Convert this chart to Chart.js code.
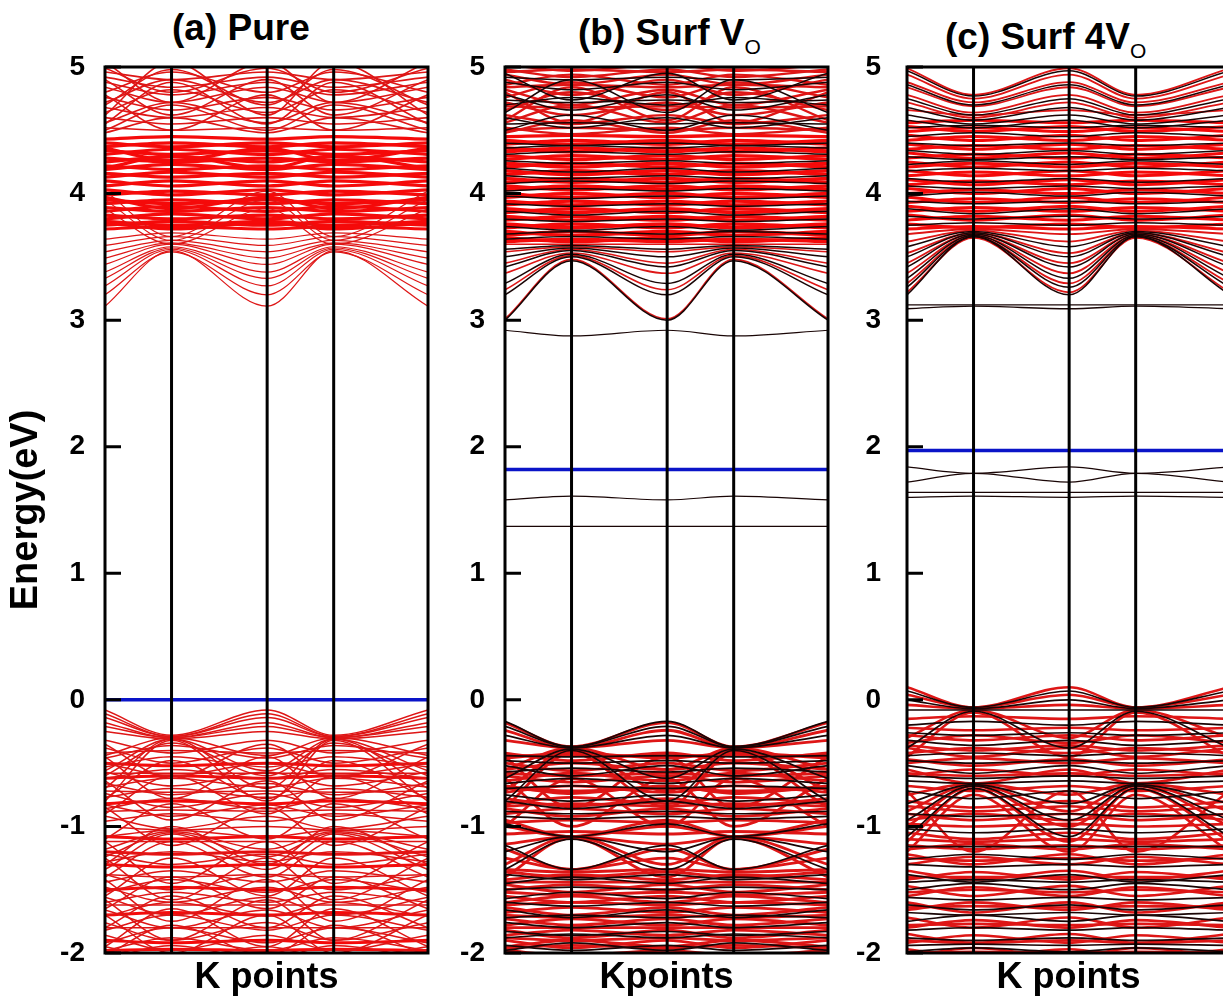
<!DOCTYPE html>
<html>
<head>
<meta charset="utf-8">
<script src="https://cdn.jsdelivr.net/npm/chart.js@4.4.0/dist/chart.umd.min.js"></script>
<style>
  body { margin: 0; width: 1223px; height: 1000px; overflow: hidden; background: #fff; position: relative;
         font-family: "Liberation Sans", Arial, sans-serif; }
  .panel { position: absolute; top: 0; height: 1000px; }
  .title { position: absolute; font-weight: bold; font-size: 37px; line-height: 36px; white-space: nowrap; color: #000; }
  .title sub { font-size: 21px; font-weight: normal; vertical-align: -9px; line-height: 0; }
</style>
</head>
<body>
<div class="title" style="left:172px;top:10px">(a) Pure</div>
<div class="title" style="left:578px;top:15px">(b) Surf V<sub>O</sub></div>
<div class="title" style="left:945px;top:19px">(c) Surf 4V<sub>O</sub></div>

<div class="panel" style="left:0;width:440px"><canvas id="pure"></canvas></div>
<div class="panel" style="left:440px;width:400px"><canvas id="vo1"></canvas></div>
<div class="panel" style="left:850px;width:400px"><canvas id="vo4"></canvas></div>

<script>
// k path and ticks
const kTicks = [0, 0.206, 0.502, 0.708, 1];
const kLabels = ["Γ", "X", "Γ", "X", "Γ"];
const energyTicks = [-2, -1, 0, 1, 2, 3, 4, 5];

// Fermi levels (eV)
const fermiPure = 0;
const fermiVo = 1.82;
const fermi4Vo = 1.97;

// every band is [E at Γ, E at X] in eV

// (a) Pure
const pureCond = [
  [3.11, 3.55], [3.2, 3.54], [3.27, 3.56], [3.33, 3.57], [3.38, 3.58], [3.44, 3.6], [3.49, 3.61],
  [3.54, 3.63], [3.59, 3.66], [3.64, 3.69], [3.88, 3.6], [3.95, 3.63], [4.02, 3.66]
];
const pureCondDense = [
  [3.72, 3.74], [3.75, 3.78], [3.78, 3.75], [3.8, 3.84], [3.83, 3.8], [3.86, 3.9], [3.89, 3.86],
  [3.92, 3.95], [3.95, 3.92], [3.99, 4.02], [4.03, 3.99], [4.06, 4.1], [4.1, 4.06], [4.13, 4.17],
  [4.16, 4.13], [4.19, 4.23], [4.22, 4.19], [4.25, 4.29], [4.28, 4.25], [4.31, 4.35], [4.34, 4.31],
  [4.37, 4.4], [4.4, 4.37], [4.43, 4.45], [3.77, 3.72], [3.97, 3.88], [4.2, 4.3], [4.36, 4.26]
];
const pureCondUpper = [
  [4.48, 4.6], [4.52, 4.5], [4.56, 4.72], [4.6, 4.55], [4.64, 4.82], [4.68, 4.6], [4.72, 4.9],
  [4.76, 4.66], [4.8, 4.96], [4.84, 4.72], [4.88, 4.78], [4.92, 4.84], [4.96, 4.9], [4.55, 4.88],
  [4.78, 4.5], [5.04, 4.72], [4.62, 5.04], [4.99, 4.8], [4.5, 4.7], [4.7, 4.98], [4.9, 4.62]
];
const pureVal = [
  [-0.08, -0.28], [-0.11, -0.29], [-0.14, -0.29], [-0.18, -0.3], [-0.21, -0.3], [-0.25, -0.31],
  [-0.44, -0.3], [-0.56, -0.31], [-0.7, -0.31], [-0.8, -0.32],
  [-0.32, -0.42], [-0.38, -0.5], [-0.46, -0.36], [-0.5, -0.6], [-0.53, -0.45], [-0.57, -0.68],
  [-0.62, -0.55], [-0.66, -0.75], [-0.69, -0.62], [-0.74, -0.85], [-0.77, -0.7], [-0.83, -0.92],
  [-0.86, -0.78], [-0.92, -1.02], [-0.96, -0.9], [-1.0, -1.03], [-1.08, -1.03], [-1.18, -1.04],
  [-1.24, -1.05], [-1.34, -1.06], [-1.2, -1.22], [-1.22, -1.3], [-1.28, -1.2], [-1.44, -1.35],
  [-1.38, -1.5], [-1.52, -1.42], [-1.48, -1.6], [-1.6, -1.52], [-1.56, -1.7], [-1.71, -1.6],
  [-1.66, -1.8], [-1.82, -1.7], [-1.76, -1.9], [-1.92, -1.8], [-1.86, -1.98], [-1.98, -1.88],
  [-1.95, -2.05], [-2.05, -1.94],
  [-0.35, -0.62], [-0.6, -0.34], [-0.45, -0.78], [-0.78, -0.48], [-0.9, -0.6], [-0.64, -0.95],
  [-1.1, -0.82], [-0.85, -1.15], [-1.3, -1.0], [-1.4, -1.12], [-1.12, -1.45], [-1.55, -1.25],
  [-1.25, -1.58], [-1.65, -1.4], [-1.42, -1.75], [-1.8, -1.55], [-1.58, -1.9], [-1.95, -1.65],
  [-1.7, -2.0], [-2.02, -1.78], [-0.42, -0.4], [-0.58, -0.58], [-0.72, -0.73], [-0.88, -0.87],
  [-1.12, -1.12], [-1.38, -1.4], [-1.62, -1.62], [-1.8, -1.8]
];
const pureValThick = [
  [-0.5, -0.52], [-0.62, -0.6], [-0.82, -0.8], [-1.08, -1.1], [-1.2, -1.22], [-1.3, -1.32],
  [-1.5, -1.48], [-1.7, -1.68], [-1.9, -1.92], [-1.98, -1.97]
];

// (b) Surf VO : black = spin up, red = spin down
const vo1Gap = [[2.92, 2.875], [1.58, 1.61], [1.37, 1.37]];
const vo1CondBlack = [
  [3.0, 3.47], [3.2, 3.5], [3.29, 3.52], [3.42, 3.55], [3.5, 3.57], [3.56, 3.59],
  [3.64, 3.66], [3.74, 3.71], [3.86, 3.83], [3.98, 3.96], [4.08, 4.1], [4.2, 4.17], [4.31, 4.33], [4.4, 4.38],
  [3.68, 3.7], [3.8, 3.78], [3.92, 3.9], [4.02, 4.04], [4.14, 4.12], [4.26, 4.24], [4.36, 4.38],
  [4.5, 4.62], [4.6, 4.52], [4.7, 4.76], [4.78, 4.66], [4.88, 4.82], [4.95, 4.74], [4.64, 4.9],
  [4.55, 4.56], [4.74, 4.72], [4.92, 4.9]
];
const vo1CondRed = [
  [3.01, 3.48], [3.24, 3.51], [3.37, 3.53], [3.45, 3.56], [3.54, 3.58], [3.6, 3.6]
];
const vo1CondUpper = [
  [4.48, 4.58], [4.52, 4.47], [4.56, 4.7], [4.62, 4.55], [4.66, 4.8], [4.72, 4.62], [4.76, 4.88],
  [4.82, 4.7], [4.86, 4.94], [4.9, 4.78], [4.94, 4.86], [4.98, 4.92], [5.02, 4.97], [4.58, 4.84], [4.8, 4.56],
  [4.5, 4.52], [4.69, 4.68], [4.84, 4.86], [4.96, 4.98]
];
const vo1CondDense = [
  [3.62, 3.64], [3.65, 3.62], [3.67, 3.7], [3.7, 3.67], [3.73, 3.76], [3.76, 3.73], [3.79, 3.82],
  [3.82, 3.79], [3.85, 3.88], [3.88, 3.85], [3.91, 3.94], [3.94, 3.91], [3.97, 4.0], [4.0, 3.97],
  [4.03, 4.06], [4.06, 4.03], [4.09, 4.12], [4.12, 4.09], [4.15, 4.18], [4.18, 4.15], [4.21, 4.24],
  [4.24, 4.21], [4.27, 4.3], [4.3, 4.27], [4.33, 4.36], [4.36, 4.33], [4.39, 4.42], [4.42, 4.39], [4.45, 4.46]
];
const vo1ValBlack = [
  [-0.17, -0.37], [-0.21, -0.37], [-0.28, -0.38], [-0.62, -0.39], [-0.8, -0.4], [-0.44, -0.45],
  [-0.52, -0.6], [-0.66, -0.62], [-0.75, -0.8], [-0.88, -0.9], [-0.98, -1.08], [-1.2, -1.08],
  [-1.34, -1.1], [-1.15, -1.34], [-1.45, -1.4], [-1.57, -1.52], [-1.66, -1.72], [-1.76, -1.8],
  [-1.88, -1.85], [-1.94, -1.98],
  [-0.48, -0.5], [-0.57, -0.54], [-0.7, -0.68], [-0.8, -0.86], [-0.92, -0.94], [-1.38, -1.42],
  [-1.5, -1.48], [-1.6, -1.63], [-1.72, -1.7], [-1.83, -1.86], [-1.98, -1.92]
];
const vo1ValRed = [
  [-0.18, -0.37], [-0.24, -0.38], [-0.32, -0.38], [-0.55, -0.38], [-0.72, -0.4],
  [-0.42, -0.48], [-0.46, -0.42], [-0.5, -0.56], [-0.55, -0.5], [-0.6, -0.65], [-0.64, -0.58],
  [-0.68, -0.74], [-0.73, -0.68], [-0.78, -0.84], [-0.82, -0.77], [-0.86, -0.92], [-0.9, -0.86],
  [-0.95, -1.08], [-1.0, -1.08], [-1.3, -1.08], [-1.4, -1.09], [-1.14, -1.08], [-1.18, -1.34],
  [-1.25, -1.34], [-1.36, -1.4], [-1.42, -1.38], [-1.46, -1.52], [-1.5, -1.46], [-1.55, -1.6],
  [-1.6, -1.55], [-1.64, -1.7], [-1.68, -1.64], [-1.73, -1.78], [-1.78, -1.73], [-1.82, -1.88],
  [-1.86, -1.82], [-1.9, -1.96], [-1.95, -1.9], [-1.98, -2.02],
  [-0.44, -0.44], [-0.58, -0.6], [-0.7, -0.72], [-0.84, -0.82], [-0.97, -0.95], [-1.06, -1.04],
  [-1.34, -1.36], [-1.44, -1.44], [-1.52, -1.54], [-1.62, -1.6], [-1.7, -1.72], [-1.8, -1.8],
  [-1.88, -1.9], [-1.96, -1.94], [-0.45, -0.85], [-0.85, -0.42], [-0.62, -1.0], [-1.0, -0.62]
];

// (c) Surf 4VO
const vo4Gap = [[3.12, 3.12], [3.09, 3.11], [1.84, 1.79], [1.72, 1.79], [1.64, 1.64], [1.6, 1.61]];
const vo4CondBlack = [
  [3.2, 3.66], [3.26, 3.66], [3.33, 3.67], [3.42, 3.68], [3.5, 3.69], [3.58, 3.7],
  [3.75, 3.77], [3.88, 3.84], [3.98, 4.01], [4.12, 4.09], [4.23, 4.26], [4.34, 4.31], [4.45, 4.48],
  [3.82, 3.8], [3.94, 3.92], [4.06, 4.04], [4.18, 4.2], [4.29, 4.27], [4.4, 4.38], [4.52, 4.54],
  [4.58, 4.52], [4.62, 4.55], [4.97, 4.77], [4.86, 4.7], [4.75, 4.62], [4.68, 4.58]
];
const vo4CondRed = [
  [3.22, 3.65], [3.29, 3.66], [3.37, 3.67], [3.45, 3.68], [3.53, 3.69], [3.62, 3.71], [3.68, 3.72],
  [4.99, 4.78], [4.94, 4.75], [4.88, 4.72], [4.84, 4.69], [4.78, 4.64], [4.72, 4.6], [4.66, 4.62]
];
const vo4CondDense = [
  [3.72, 3.74], [3.76, 3.73], [3.79, 3.82], [3.83, 3.79], [3.86, 3.89], [3.9, 3.86], [3.93, 3.96],
  [3.97, 3.93], [4.0, 4.03], [4.04, 4.0], [4.07, 4.1], [4.11, 4.07], [4.14, 4.17], [4.18, 4.14],
  [4.21, 4.24], [4.25, 4.21], [4.28, 4.31], [4.32, 4.28], [4.35, 4.38], [4.39, 4.35], [4.42, 4.45],
  [4.46, 4.42], [4.49, 4.52], [4.53, 4.49], [4.56, 4.58]
];
const vo4ValBlack = [
  [0.07, -0.06], [0.0, -0.07], [-0.08, -0.08], [-0.38, -0.09], [-0.2, -0.17], [-0.32, -0.36],
  [-0.44, -0.42], [-0.52, -0.58], [-0.64, -0.66], [-0.82, -0.67], [-0.95, -0.68], [-1.08, -0.7],
  [-0.72, -0.78], [-1.16, -1.16], [-1.26, -1.22], [-1.38, -1.44], [-1.5, -1.45], [-1.62, -1.66],
  [-1.75, -1.7], [-1.88, -1.9], [-1.99, -1.96],
  [-0.26, -0.28], [-0.48, -0.5], [-0.6, -0.62], [-0.9, -0.92], [-1.02, -1.05], [-1.3, -1.32],
  [-1.44, -1.42], [-1.56, -1.58], [-1.68, -1.7], [-1.82, -1.8], [-1.94, -1.93]
];
const vo4ValRed = [
  [0.1, -0.06], [0.04, -0.06], [-0.04, -0.07], [-0.3, -0.08], [-0.45, -0.1], [-0.15, -0.13],
  [-0.28, -0.32], [-0.34, -0.28], [-0.38, -0.45], [-0.42, -0.38], [-0.47, -0.52], [-0.5, -0.46],
  [-0.55, -0.66], [-0.6, -0.55], [-0.75, -0.66], [-0.88, -0.67], [-0.9, -0.95], [-1.0, -0.68],
  [-1.12, -0.7], [-0.8, -0.85], [-1.15, -1.18], [-1.18, -1.14], [-1.22, -1.3], [-1.3, -1.24],
  [-1.35, -1.42], [-1.42, -1.36], [-1.47, -1.55], [-1.55, -1.48], [-1.6, -1.68], [-1.66, -1.6],
  [-1.72, -1.8], [-1.8, -1.74], [-1.85, -1.92], [-1.92, -1.86], [-1.97, -2.03], [-2.03, -1.96],
  [-1.05, -1.1], [-0.95, -0.9],
  [-0.22, -0.24], [-0.36, -0.4], [-0.58, -0.6], [-0.68, -0.72], [-0.84, -0.88], [-0.98, -1.0],
  [-1.1, -1.12], [-1.25, -1.27], [-1.4, -1.4], [-1.52, -1.5], [-1.64, -1.63], [-1.78, -1.77],
  [-1.9, -1.92], [-2.0, -1.99], [-0.72, -1.2], [-1.2, -0.75]
];

Chart.defaults.font.family = '"Liberation Sans", Arial, sans-serif';
Chart.defaults.color = "#000";

const RED = "rgb(222,22,22)";
const BRIGHT_RED = "rgb(245,10,10)";
const BLACK = "rgb(25,5,5)";
const BLUE = "rgb(10,20,200)";

function bandPath(band) {
  return kTicks.map((k, i) => ({ x: k, y: kLabels[i] === "Γ" ? band[0] : band[1] }));
}

function bandSets(bands, color, width) {
  return bands.map(b => ({
    data: bandPath(b),
    borderColor: color,
    borderWidth: width,
    pointRadius: 0,
    cubicInterpolationMode: "monotone",
    clip: 0
  }));
}

// symmetry lines, frame and inner ticks drawn over the bands
const framePlugin = {
  id: "frame",
  afterDatasetsDraw(chart) {
    const { ctx, chartArea: a, scales: { x, y } } = chart;
    ctx.save();
    ctx.strokeStyle = "#000";
    ctx.lineWidth = 3;
    ctx.beginPath();
    kTicks.slice(1, -1).forEach(k => {
      const px = x.getPixelForValue(k);
      ctx.moveTo(px, a.top);
      ctx.lineTo(px, a.bottom);
    });
    energyTicks.forEach(v => {
      const py = y.getPixelForValue(v);
      ctx.moveTo(a.left, py);
      ctx.lineTo(a.left + 16, py);
    });
    ctx.stroke();
    ctx.strokeRect(a.left, a.top, a.right - a.left, a.bottom - a.top);
    ctx.restore();
  }
};

function drawPanel(id, cfg) {
  const fermiSet = {
    data: [{ x: 0, y: cfg.fermi }, { x: 1, y: cfg.fermi }],
    borderColor: BLUE, borderWidth: 3.5, pointRadius: 0, clip: 0
  };
  new Chart(document.getElementById(id), {
    type: "line",
    data: { datasets: [fermiSet].concat(cfg.datasets) },
    options: {
      responsive: true,
      maintainAspectRatio: false,
      animation: false,
      events: [],
      layout: { padding: { top: 67, right: cfg.padRight, left: 0, bottom: 0 } },
      plugins: { legend: { display: false }, tooltip: { enabled: false } },
      scales: {
        x: {
          type: "linear", min: 0, max: 1,
          ticks: { display: false },
          grid: { display: false },
          border: { display: false },
          title: { display: true, text: cfg.xTitle, font: { size: 36, weight: "bold" }, padding: 0 },
          afterFit: s => { s.height = 47; }
        },
        y: {
          type: "linear", min: -2, max: 5,
          afterBuildTicks: s => { s.ticks = energyTicks.map(v => ({ value: v })); },
          ticks: { font: { size: 28, weight: "bold" }, padding: cfg.tickPad },
          grid: { display: false, drawTicks: false },
          border: { display: false },
          title: { display: cfg.yTitle, text: "Energy(eV)", font: { size: 38, weight: "bold" }, padding: { top: 4, bottom: 0 } },
          afterFit: s => { s.width = cfg.yWidth; }
        }
      }
    },
    plugins: [framePlugin]
  });
}

drawPanel("pure", {
  fermi: fermiPure, xTitle: "K points", yTitle: true, yWidth: 105, padRight: 12, tickPad: 20,
  datasets: [].concat(
    bandSets(pureCond, RED, 1.2),
    bandSets(pureCondUpper, RED, 1.6),
    bandSets(pureVal, RED, 1.5),
    bandSets(pureCondDense, BRIGHT_RED, 3.2),
    bandSets(pureValThick, BRIGHT_RED, 3)
  )
});

drawPanel("vo1", {
  fermi: fermiVo, xTitle: "Kpoints", yTitle: false, yWidth: 65, padRight: 12, tickPad: 20,
  datasets: [].concat(
    bandSets(vo1Gap, BLACK, 1.2),
    bandSets(vo1CondBlack, BLACK, 1.5),
    bandSets(vo1ValBlack, BLACK, 1.7),
    bandSets(vo1CondRed, RED, 1.6),
    bandSets(vo1CondUpper, RED, 2.4),
    bandSets(vo1ValRed, RED, 2.8),
    bandSets(vo1CondDense, BRIGHT_RED, 3.4)
  )
});

drawPanel("vo4", {
  fermi: fermi4Vo, xTitle: "K points", yTitle: false, yWidth: 57, padRight: 20, tickPad: 26,
  datasets: [].concat(
    bandSets(vo4Gap, BLACK, 1.3),
    bandSets(vo4CondBlack, BLACK, 1.5),
    bandSets(vo4ValBlack, BLACK, 1.7),
    bandSets(vo4CondRed, RED, 1.8),
    bandSets(vo4ValRed, RED, 2.6),
    bandSets(vo4CondDense, BRIGHT_RED, 3)
  )
});
</script>
</body>
</html>
